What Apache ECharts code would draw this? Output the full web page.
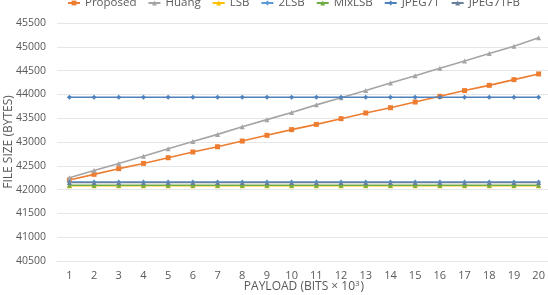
<!DOCTYPE html>
<html><head><meta charset="utf-8">
<script src="https://cdn.jsdelivr.net/npm/echarts@6/dist/echarts.min.js"></script>
<style>html,body{margin:0;padding:0;background:#fff}#c{width:548px;height:295px}</style>
</head><body><div id="c"></div>
<script>
var categories = ['1','2','3','4','5','6','7','8','9','10','11','12','13','14','15','16','17','18','19','20'];
var proposed = [42200,42320,42440,42550,42670,42790,42900,43020,43140,43260,43370,43490,43610,43720,43840,43960,44080,44190,44310,44430];
var huang = [42250,42400,42550,42700,42860,43010,43160,43320,43470,43620,43780,43930,44080,44240,44390,44550,44700,44860,45010,45190];
var lsb = [42080,42080,42080,42080,42080,42080,42080,42080,42080,42080,42080,42080,42080,42080,42080,42080,42080,42080,42080,42080];
var lsb2 = [42160,42160,42160,42160,42160,42160,42160,42160,42160,42160,42160,42160,42160,42160,42160,42160,42160,42160,42160,42160];
var mixlsb = [42090,42090,42090,42090,42090,42090,42090,42090,42090,42090,42090,42090,42090,42090,42090,42090,42090,42090,42090,42090];
var jpeg71 = [43940,43940,43940,43940,43940,43940,43940,43940,43940,43940,43940,43940,43940,43940,43940,43940,43940,43940,43940,43940];
var jpeg71fb = [42150,42150,42150,42150,42150,42150,42150,42150,42150,42150,42150,42150,42150,42150,42150,42150,42150,42150,42150,42150];
var seriesNames = ['Proposed','Huang','LSB','2LSB','MixLSB','JPEG71','JPEG71FB'];
var seriesData = [proposed, huang, lsb, lsb2, mixlsb, jpeg71, jpeg71fb];
var colors = ['#ED7D31','#A5A5A5','#FFC000','#5B9BD5','#70AD47','#4F81BD','#6A7F99'];
var symbols = ['rect','triangle','triangle','diamond','triangle','diamond','triangle'];

var font = '"Open Sans", "Liberation Sans", sans-serif';
var chart = echarts.init(document.getElementById('c'), null, {renderer:'canvas'});
chart.setOption({
  animation: false,
  color: colors,
  textStyle: {fontFamily: font},
  legend: {
    top: -8, left: 62, width: 486, itemWidth: 12, itemHeight: 6, itemGap: 11,
    textStyle: {color:'#595959', fontSize: 11.5, fontFamily: font},
    data: seriesNames
  },
  grid: {left: 57, right: -3, top: 23, bottom: 34, outerBoundsMode: 'none', containLabel: false},
  xAxis: {
    type: 'category', data: categories, boundaryGap: true,
    axisLine: {show: true, lineStyle: {color: '#e6e6e6'}},
    axisTick: {show: false},
    axisLabel: {color: '#595959', fontSize: 11, margin: 9, fontFamily: font},
    name: '{a|PAYLOAD (BITS × 10}{s|3}{a|)}', nameLocation: 'middle', nameGap: 19, nameMoveOverlap: false,
    nameTextStyle: {verticalAlign: 'top', rich: {a:{color:'#595959', fontSize: 12, fontFamily: font}, s:{color:'#595959', fontSize: 8, verticalAlign:'top', padding:[0,1,6,0], fontFamily: font}}}
  },
  yAxis: {
    type: 'value', min: 40500, max: 45500, interval: 500,
    axisLine: {show: false}, axisTick: {show: false},
    splitLine: {lineStyle: {color: '#e6e6e6'}},
    axisLabel: {color: '#595959', fontSize: 10.5, margin: 11, fontFamily: font, formatter: function(v){return String(v);}},
    name: 'FILE SIZE (BYTES)', nameLocation: 'middle', nameGap: 42, nameRotate: 90, nameMoveOverlap: false,
    nameTextStyle: {color: '#595959', fontSize: 12, fontFamily: font}
  },
  series: seriesNames.map(function(n, i){
    return {name: n, type: 'line', data: seriesData[i], symbol: symbols[i], symbolSize: 5, showAllSymbol: true,
      lineStyle: {width: 1.6, color: colors[i]}, itemStyle: {color: colors[i]}};
  })
});
</script></body></html>
